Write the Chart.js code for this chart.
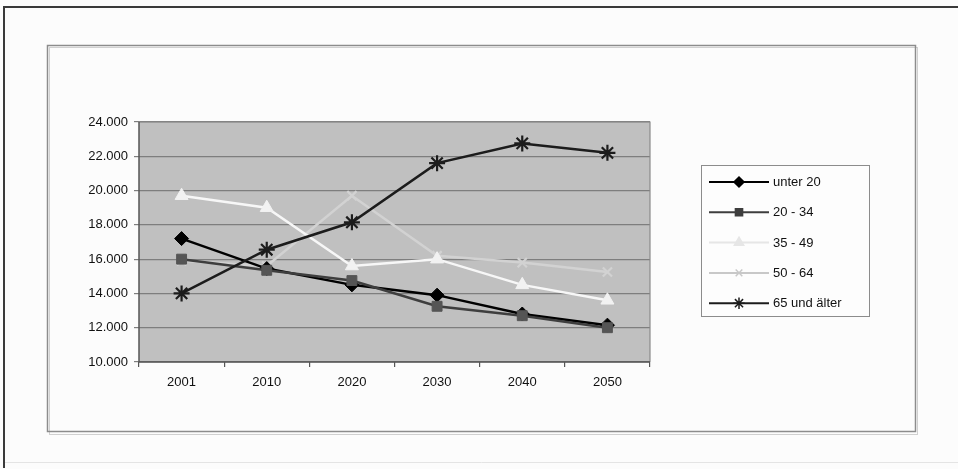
<!DOCTYPE html>
<html>
<head>
<meta charset="utf-8">
<script src="https://cdn.jsdelivr.net/npm/chart.js@4.4.1/dist/chart.umd.min.js"></script>
<style>
  html, body { margin: 0; padding: 0; background: #fcfcfc; }
  #wrap { width: 958px; height: 469px; position: relative; }
</style>
</head>
<body>
<div id="wrap"><canvas id="c" width="958" height="469"></canvas></div>
<script>
// Bevölkerung nach Altersgruppen, 2001–2050
const years = ['2001', '2010', '2020', '2030', '2040', '2050'];
const unter20   = [17200, 15450, 14500, 13900, 12800, 12150];
const von20bis34 = [16000, 15350, 14750, 13250, 12700, 12000];
const von35bis49 = [19700, 19000, 15600, 16000, 14500, 13600];
const von50bis64 = [15900, 15600, 19700, 16200, 15800, 15250];
const ab65      = [14000, 16550, 18150, 21600, 22750, 22200];
const yMin = 10000, yMax = 24000, yStep = 2000;

const FONT = 'Liberation Sans, Arial, sans-serif';

function fmtDE(v) {
  return String(Math.round(v)).replace(/\B(?=(\d{3})+(?!\d))/g, '.');
}

const series = [
  { label: 'unter 20',    data: unter20,    color: '#000000', fill: '#000000', style: 'rectRot',  r: 7 },
  { label: '20 - 34',     data: von20bis34, color: '#3e3e3e', fill: '#555555', style: 'rect',     r: 7 },
  { label: '35 - 49',     data: von35bis49, color: '#f7f7f7', fill: '#f2f2f2', style: 'triangle', r: 7.5 },
  { label: '50 - 64',     data: von50bis64, color: '#d2d2d2', fill: '#d2d2d2', style: 'crossRot', r: 6.5 },
  { label: '65 und älter', data: ab65,      color: '#1c1c1c', fill: '#1c1c1c', style: 'star',     r: 8 }
];

// frame, inner box and plot background
const framePlugin = {
  id: 'frame',
  beforeDraw(chart) {
    const ctx = chart.ctx;
    ctx.save();
    ctx.fillStyle = '#fcfcfc';
    ctx.fillRect(0, 0, chart.width, chart.height);
    // outer frame
    ctx.strokeStyle = '#3a3a3a';
    ctx.lineWidth = 2;
    ctx.beginPath();
    ctx.moveTo(4, 468); ctx.lineTo(4, 7); ctx.lineTo(958, 7);
    ctx.stroke();
    ctx.strokeStyle = '#e4e4e4';
    ctx.lineWidth = 1;
    ctx.beginPath();
    ctx.moveTo(5, 462.5); ctx.lineTo(958, 462.5);
    ctx.stroke();
    // inner chart box with soft shadow
    ctx.strokeStyle = '#d0d0d0';
    ctx.lineWidth = 1;
    ctx.strokeRect(49.5, 47.5, 868, 387);
    ctx.strokeStyle = '#8c8c8c';
    ctx.lineWidth = 1.5;
    ctx.strokeRect(47.5, 45.5, 868, 386);
    // plot background
    const a = chart.chartArea;
    ctx.fillStyle = '#c0c0c0';
    ctx.fillRect(a.left, a.top, a.right - a.left, a.bottom - a.top);
    ctx.restore();
  },
  beforeDatasetsDraw(chart) {
    const ctx = chart.ctx, a = chart.chartArea;
    ctx.save();
    ctx.strokeStyle = '#8a8a8a';
    ctx.lineWidth = 1.2;
    ctx.beginPath();
    ctx.moveTo(a.left, a.top); ctx.lineTo(a.right, a.top); ctx.lineTo(a.right, a.bottom);
    ctx.stroke();
    ctx.strokeStyle = '#555555';
    ctx.lineWidth = 1.5;
    ctx.beginPath();
    ctx.moveTo(a.left, a.top); ctx.lineTo(a.left, a.bottom); ctx.lineTo(a.right, a.bottom);
    ctx.stroke();
    ctx.restore();
  }
};

// legend box on the right
const legendPlugin = {
  id: 'boxLegend',
  afterDraw(chart) {
    const ctx = chart.ctx;
    const bx = 701, by = 165, bw = 168, bh = 151;
    ctx.save();
    ctx.fillStyle = '#fdfdfd';
    ctx.fillRect(bx, by, bw, bh);
    ctx.strokeStyle = '#8c8c8c';
    ctx.lineWidth = 1;
    ctx.strokeRect(bx + 0.5, by + 0.5, bw, bh);
    chart.data.datasets.forEach((ds, i) => {
      const y = 182 + i * 30.3;
      ctx.strokeStyle = ds.legendColor;
      ctx.lineWidth = 2;
      ctx.beginPath();
      ctx.moveTo(709, y); ctx.lineTo(769, y);
      ctx.stroke();
      ctx.fillStyle = ds.legendColor;
      ctx.strokeStyle = ds.legendColor;
      ctx.lineWidth = 1.5;
      Chart.helpers.drawPoint(ctx, { pointStyle: ds.pointStyle, radius: ds.pointRadius * 0.72, borderWidth: 1.5, rotation: 0 }, 739, y);
      ctx.fillStyle = '#111111';
      ctx.font = '13px ' + FONT;
      ctx.textBaseline = 'middle';
      ctx.textAlign = 'left';
      ctx.fillText(ds.label, 773, y + 0.5);
    });
    ctx.restore();
  }
};

const legendTints = ['#000000', '#3e3e3e', '#e6e6e6', '#c8c8c8', '#1c1c1c'];

new Chart(document.getElementById('c'), {
  type: 'line',
  data: {
    labels: years,
    datasets: series.map((s, i) => ({
      label: s.label,
      data: s.data,
      borderColor: s.color,
      backgroundColor: s.fill,
      pointBackgroundColor: s.fill,
      pointBorderColor: s.style === 'crossRot' || s.style === 'star' ? s.color : s.fill,
      pointBorderWidth: s.style === 'star' || s.style === 'crossRot' ? 2.2 : 1,
      pointStyle: s.style,
      pointRadius: s.r,
      pointHoverRadius: s.r,
      borderWidth: 2.5,
      tension: 0,
      fill: false,
      legendColor: legendTints[i],
      order: [3, 2, 4, 5, 1][i]
    }))
  },
  options: {
    responsive: false,
    animation: false,
    events: [],
    layout: { padding: { left: 0, right: 308, top: 122, bottom: 77 } },
    plugins: { legend: { display: false }, tooltip: { enabled: false } },
    scales: {
      x: {
        offset: true,
        grid: { offset: true, drawOnChartArea: false, drawTicks: true, tickLength: 5, color: '#555555', lineWidth: 1.2 },
        border: { display: false },
        ticks: { color: '#111111', font: { family: FONT, size: 13 }, padding: 8, maxRotation: 0 },
        afterFit(s) { s.height = 30; }
      },
      y: {
        min: yMin, max: yMax,
        grid: { color: '#7e7e7e', lineWidth: 1.2, tickLength: 5, drawTicks: true },
        border: { display: false },
        ticks: { stepSize: yStep, color: '#111111', font: { family: FONT, size: 13 }, padding: 6, callback: v => fmtDE(v) },
        afterFit(s) { s.width = 139; }
      }
    }
  },
  plugins: [framePlugin, legendPlugin]
});
</script>
</body>
</html>
